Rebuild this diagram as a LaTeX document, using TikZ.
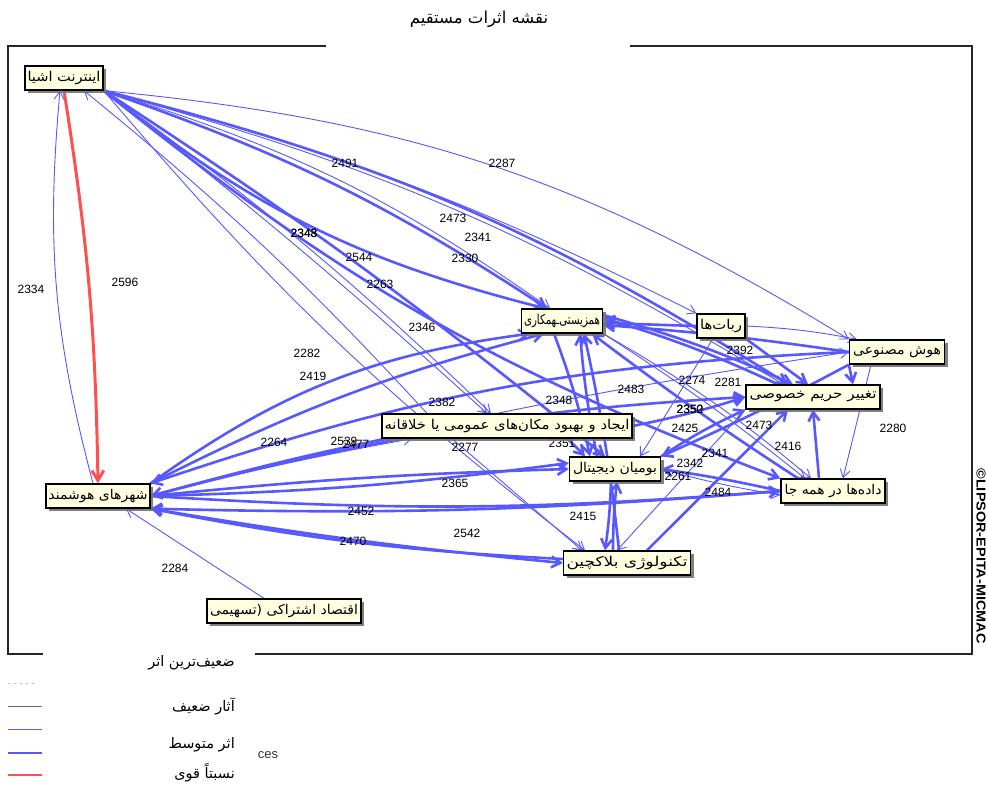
\documentclass[tikz,border=0pt]{standalone}
\usepackage{fontspec}
\usepackage{graphicx}
\setmainfont{Liberation Sans}
\newfontfamily\fafont[Script=Arabic]{DejaVu Sans}
\TeXXeTstate=1
\usetikzlibrary{arrows.meta,shadows}
\definecolor{eblue}{RGB}{88,88,255}
\definecolor{ered}{RGB}{255,80,80}
\definecolor{boxfill}{RGB}{255,255,226}
% a variable's label, stretched to a given width
\newcommand{\vt}[2]{\resizebox{#1}{\height}{\fafont #2}}
\pgfdeclarelayer{bglayer}
\pgfdeclarelayer{edgelayer}
\pgfdeclarelayer{numlayer}
\pgfsetlayers{bglayer,edgelayer,numlayer,main}
\tikzset{
  var/.style={draw=black, line width=1.3pt, fill=boxfill, inner sep=0pt,
    minimum height=24pt, font=\fontsize{13.5}{14}\selectfont,
    drop shadow={shadow xshift=3pt, shadow yshift=-3pt, fill=black!55, opacity=0.9}},
  lo/.style={draw=eblue, line width=0.9pt, -{Straight Barb[length=8pt,width=10pt]}},
  hi/.style={draw=eblue, line width=2.6pt, -{Straight Barb[length=9pt,width=11pt]}},
  strong/.style={draw=ered, line width=3pt, -{Straight Barb[length=10pt,width=12pt]}},
  wnum/.style={font=\fontsize{12}{13}\selectfont, inner sep=0pt},
  legtext/.style={anchor=east, font=\fafont\fontsize{14.5}{16}\selectfont, inner sep=0pt},
  frame/.style={draw=black!85, line width=1.4pt},
}
\begin{document}
\begin{tikzpicture}[x=1pt, y=-1pt]
\useasboundingbox (0,0) rectangle (987,791);
\begin{pgfonlayer}{bglayer}
  \fill[white] (0,0) rectangle (987,791);
\end{pgfonlayer}

% title and frame
\node[font=\fafont\fontsize{16.5}{18}\selectfont] (title) at (479,19) {\beginR نقشه اثرات مستقیم\endR};
\draw[frame] (326,46) -- (8,46) -- (8,654) -- (43,654);
\draw[frame] (630,46) -- (972,46) -- (972,654) -- (255,654);

% variables
\node[var, minimum width=78pt]  (iot)   at (64,78)   {\vt{73pt}{\beginR اینترنت اشیا\endR}};
\node[var, minimum width=81pt]  (ham)   at (562,321) {\vt{76pt}{\beginR همزیستی‌ـهمکاری\endR}};
\node[var, minimum width=48pt]  (rob)   at (721,326) {\vt{42pt}{\beginR ربات‌ها\endR}};
\node[var, minimum width=95pt]  (ai)    at (897,352) {\vt{88pt}{\beginR هوش مصنوعی\endR}};
\node[var, minimum width=134pt] (priv)  at (813,397) {\vt{127pt}{\beginR تغییر حریم خصوصی\endR}};
\node[var, minimum width=250pt] (pub)   at (507,426) {\vt{245pt}{\beginR ایجاد و بهبود مکان‌های عمومی یا خلاقانه\endR}};
\node[var, minimum width=91pt]  (nat)   at (615,469) {\vt{84pt}{\beginR بومیان دیجیتال\endR}};
\node[var, minimum width=104pt] (data)  at (833,491) {\vt{97pt}{\beginR داده‌ها در همه جا\endR}};
\node[var, minimum width=104pt] (smart) at (98,496)  {\vt{99pt}{\beginR شهرهای هوشمند\endR}};
\node[var, minimum width=127pt] (bc)    at (627,563) {\vt{121pt}{\beginR تکنولوژی بلاکچین\endR}};
\node[var, minimum width=154pt] (share) at (284,611) {\vt{148pt}{\beginR اقتصاد اشتراکی (تسهیمی\endR}};

\begin{pgfonlayer}{edgelayer}
% influences of the Internet of Things
\draw[strong, bend left=4] (iot.south) to (smart.north);
\draw[lo, bend left=10] ([xshift=-5pt]smart.north) to ([xshift=-4pt]iot.south);
\draw[lo, bend left=13] (iot.south east) to (ai.north west);
\draw[hi, bend left=7] (iot.south east) to ([xshift=-15pt]ham.north);
\draw[lo, bend left=9] (iot.south east) to ([xshift=-12pt]ham.north);
\draw[hi, bend left=9] (iot.south east) to ([xshift=-25pt]priv.north);
\draw[lo, bend left=8] (iot.south east) to ([xshift=-30pt]priv.north);
\draw[lo, bend left=6] (iot.south east) to (rob.north west);
\draw[hi, bend right=12] (iot.south east) to ([xshift=-17pt]ham.north);
\draw[hi, bend left=3] (iot.south east) to ([xshift=-10pt]nat.north);
\draw[hi, bend right=9] (iot.south east) to (data.north west);
\draw[lo, bend left=2] (iot.south east) to ([xshift=-20pt]pub.north);
\draw[lo, bend left=4] (iot.south east) to ([xshift=-16pt]pub.north);
\draw[lo, bend right=6] (iot.south east) to ([xshift=-42pt]bc.north);
\draw[lo, bend right=4] ([xshift=-80pt]pub.north) to ([xshift=20pt]iot.south);
% influences of smart cities
\draw[hi, bend left=14] (smart.north east) to ([xshift=-32pt]ham.south);
\draw[hi, bend left=6] (smart.north east) to ([xshift=-18pt]ham.south);
\draw[hi, bend left=6] (smart.east) to (priv.west);
\draw[lo, bend left=3] (smart.east) to (ai.west);
\draw[lo, bend left=2] (smart.east) to ([xshift=-95pt]pub.south);
\draw[hi, bend right=2] ([xshift=-105pt]pub.south) to (smart.east);
\draw[hi, bend left=2] (smart.east) to (nat.west);
\draw[hi, bend right=3] (smart.east) to ([yshift=6pt]nat.west);
\draw[hi, bend right=4] (smart.east) to (data.west);
\draw[hi, bend left=3] (data.west) to (smart.south east);
\draw[hi, bend right=2] (smart.south east) to (bc.west);
\draw[hi, bend left=4] ([yshift=4pt]bc.west) to (smart.south east);
\draw[lo] ([xshift=-20pt]share.north) to ([xshift=28pt]smart.south);
% links around digital natives and blockchain
\draw[hi, bend left=3] ([xshift=-18pt]nat.north) to ([xshift=18pt]ham.south);
\draw[hi, bend right=3] ([xshift=-8pt]bc.north) to ([xshift=22pt]ham.south);
\draw[hi, bend left=3] ([xshift=-14pt]bc.north) to ([xshift=2pt]nat.south);
\draw[hi, bend left=3] ([xshift=-4pt]nat.south) to ([xshift=-22pt]bc.north);
\draw[hi, bend left=4] ([xshift=-8pt]ham.south) to ([xshift=-25pt]nat.north);
\draw[hi, bend left=4] (nat.north east) to (priv.south west);
\draw[hi, bend right=2] (data.west) to (nat.east);
\draw[lo, bend right=3] (nat.east) to ([yshift=-4pt]data.west);
\draw[hi] ([xshift=20pt]bc.north) to ([xshift=-25pt]priv.south);
\draw[lo] (priv.south west) to ([xshift=-10pt]bc.north);
% links around data, privacy, robots and AI
\draw[hi] ([xshift=-14pt]data.north) to (priv.south);
\draw[lo] ([xshift=-26pt]ai.south) to ([xshift=10pt]data.north);
\draw[lo, bend left=3] (ham.south east) to ([xshift=-28pt]data.north);
\draw[lo, bend left=5] (ham.south east) to ([xshift=-22pt]data.north);
\draw[hi, bend left=2] ([xshift=-35pt]data.north) to ([xshift=30pt]ham.south);
\draw[lo] ([xshift=-55pt]pub.south) to ([xshift=-45pt]bc.north);
\draw[hi] (rob.west) to ([yshift=-2pt]ham.east);
\draw[hi, bend right=4] ([xshift=-35pt]priv.north) to ([yshift=3pt]ham.east);
\draw[hi, bend left=4] ([yshift=6pt]ham.east) to ([xshift=-20pt]priv.north);
\draw[hi] (ai.south west) to ([xshift=40pt]priv.north);
\draw[hi, bend right=2] (ai.west) to ([yshift=-4pt]ham.east);
\draw[lo, bend left=4] (rob.east) to ([xshift=-40pt]ai.north);
\draw[lo] ([xshift=-8pt]rob.south) to ([xshift=25pt]nat.north);
\draw[hi] (rob.south east) to ([xshift=-5pt]priv.north);
\draw[hi, bend right=8] (ai.west) to (smart.north east);
\draw[hi, bend left=2] (ai.south west) to (nat.north east);
\draw[hi, bend right=3] (pub.east) to (priv.west);
\draw[hi, bend left=3] ([xshift=60pt]pub.south) to ([xshift=-30pt]nat.north);
\end{pgfonlayer}

\begin{pgfonlayer}{numlayer}
\foreach \v/\px/\py in {2491/345/163, 2287/502/163, 2473/453/218, 2341/478/237,
  2348/304/233, 2343/304/233, 2544/359/257, 2330/465/258, 2263/380/284,
  2346/422/327, 2334/31/289, 2596/125/282, 2282/307/353, 2419/313/376,
  2392/740/350, 2382/442/402, 2348/559/400, 2483/631/389, 2274/692/380,
  2281/728/382, 2350/690/409, 2352/690/409, 2425/685/428, 2473/759/425,
  2280/893/428, 2416/788/446, 2264/274/442, 2539/344/441, 2477/356/444,
  2277/465/447, 2351/562/443, 2341/715/453, 2342/690/463, 2261/678/476,
  2365/455/483, 2484/718/492, 2452/361/511, 2415/583/516, 2542/467/533,
  2470/353/541, 2284/175/568}
  \node[wnum] at (\px,\py) {\v};
\end{pgfonlayer}

% legend
\draw[black!25, line width=1pt, dash pattern=on 2pt off 4pt] (8,683) -- (38,683);
\draw[black!60, line width=1pt] (8,706) -- (42,706);
\draw[eblue, line width=1pt] (8,729) -- (42,729);
\draw[eblue, line width=2.4pt] (8,753) -- (42,753);
\draw[ered, line width=2.4pt] (8,775) -- (42,775);
\node[legtext] (l1) at (235,663) {\beginR ضعیف‌ترین اثر\endR};
\node[legtext] (l2) at (235,706) {\beginR آثار ضعیف\endR};
\node[legtext] (l3) at (235,745) {\beginR اثر متوسط\endR};
\node[legtext] (l4) at (235,773) {\beginR نسبتاً قوی\endR};
\node[font=\fontsize{13}{14}\selectfont, text=black!80, inner sep=0pt] (ces) at (268,755) {ces};

% copyright line along the right edge
\node[rotate=-90, inner sep=0pt] (copy) at (981,556) {\resizebox{175pt}{9pt}{\bfseries ©LIPSOR-EPITA-MICMAC}};
\end{tikzpicture}
\end{document}
